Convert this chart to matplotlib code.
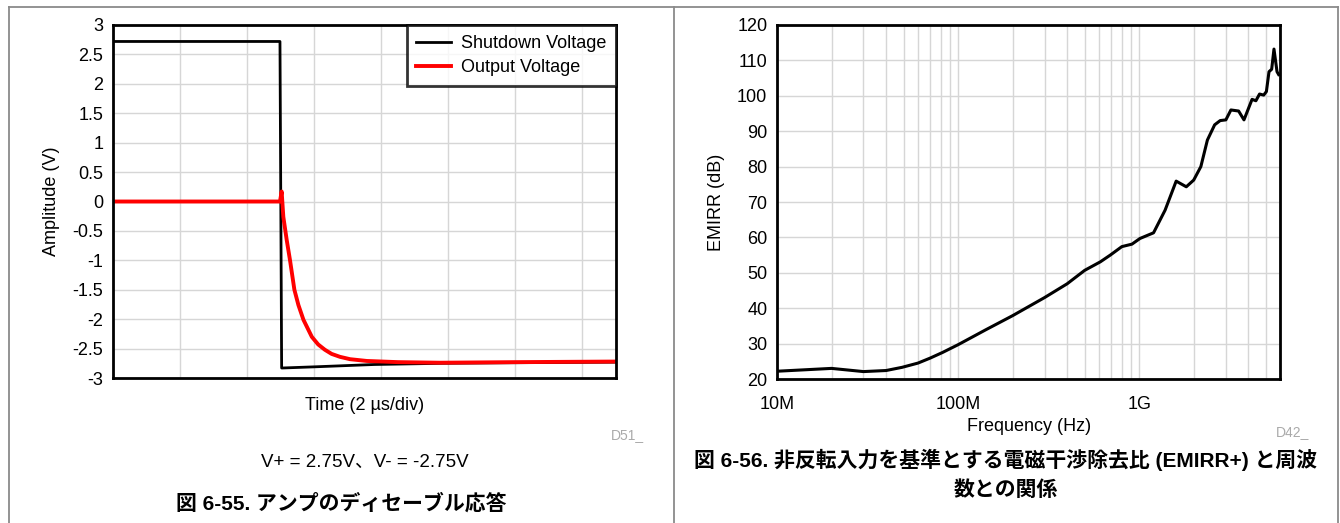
import matplotlib.pyplot as plt
from matplotlib.lines import Line2D
from matplotlib.ticker import FuncFormatter, LogLocator, NullFormatter

plt.rcParams['font.family'] = ['Liberation Sans', 'Noto Sans CJK JP']
plt.rcParams['axes.unicode_minus'] = False

FontSize = 13
GridColor = '#d6d6d6'

# amplifier disable response, time in us
shutdown_t = [0, 4.98, 5.03, 6.0, 7.8, 9.8, 12.0, 15.0]
shutdown_v = [2.72, 2.72, -2.83, -2.81, -2.77, -2.75, -2.74, -2.73]

output_t = [0, 4.98, 5.03, 5.08, 5.18, 5.28, 5.41, 5.53, 5.68, 5.93, 6.12, 6.32, 6.52,
            6.77, 7.07, 7.57, 8.5, 9.75, 12.0, 15.0]
output_v = [0, 0, 0.17, -0.26, -0.65, -1.0, -1.5, -1.76, -2.01, -2.30, -2.43, -2.52, -2.59,
            -2.64, -2.68, -2.71, -2.73, -2.74, -2.73, -2.72]

amp_ticks = [-3, -2.5, -2, -1.5, -1, -0.5, 0, 0.5, 1, 1.5, 2, 2.5, 3]
time_grid = [0, 2, 4, 6, 8, 10, 12, 14]

# EMIRR+ vs frequency
freq_hz = [1.0e7, 2.0e7, 3.0e7, 4.0e7, 4.9e7, 6.0e7, 7.0e7, 8.2e7, 1.0e8, 1.42e8, 2.0e8,
           3.0e8, 4.0e8, 5.0e8, 6.1e8, 6.92e8, 8.02e8, 9.12e8, 1.01e9, 1.2e9, 1.39e9,
           1.6e9, 1.82e9, 2.0e9, 2.19e9, 2.38e9, 2.61e9, 2.8e9, 3.01e9, 3.21e9, 3.54e9,
           3.79e9, 4.2e9, 4.41e9, 4.62e9, 4.87e9, 5.04e9, 5.21e9, 5.39e9, 5.55e9, 5.77e9, 5.89e9]
emirr_db = [22.2, 23.0, 22.1, 22.4, 23.3, 24.5, 25.9, 27.5, 29.7, 33.9, 37.9,
            43.0, 46.9, 50.7, 53.1, 55.0, 57.4, 58.1, 59.7, 61.3, 67.7,
            75.9, 74.3, 76.2, 80.0, 87.5, 91.8, 93.0, 93.2, 96.0, 95.7,
            93.2, 99.0, 98.6, 100.5, 100.2, 101.2, 106.8, 107.5, 113.2, 106.8, 106.0]

freq_ticks = [1e7, 1e8, 1e9]
freq_labels = ['10M', '100M', '1G']
emirr_ticks = [20, 30, 40, 50, 60, 70, 80, 90, 100, 110, 120]


def style_axes(ax):
    for s in ax.spines.values():
        s.set_linewidth(2.0)
        s.set_color('black')
    ax.tick_params(length=0, labelsize=FontSize)
    ax.set_axisbelow(True)


fig = plt.figure(figsize=(13.4, 5.23), dpi=100)

# --- left: disable response
ax1 = fig.add_axes([0.0843, 0.2772, 0.3754, 0.675])
ax1.plot(shutdown_t, shutdown_v, color='black', lw=2.0, label='Shutdown Voltage')
ax1.plot(output_t, output_v, color='#ff0000', lw=2.8, label='Output Voltage')
ax1.set_xlim(0, 15)
ax1.set_ylim(-3, 3)
ax1.set_yticks(amp_ticks)
ax1.yaxis.set_major_formatter(FuncFormatter(lambda v, p: f'{v:g}'))
ax1.set_xticks(time_grid)
ax1.set_xticklabels([])
ax1.grid(True, color=GridColor, lw=1.0)
style_axes(ax1)
ax1.tick_params(axis='y', pad=7)
ax1.set_xlabel('Time (2 µs/div)', fontsize=FontSize, labelpad=10)
ax1.set_ylabel('Amplitude (V)', fontsize=FontSize, labelpad=9)
leg = ax1.legend(loc='upper right', fontsize=FontSize, frameon=True, fancybox=False,
                 borderaxespad=0, handlelength=1.9, handletextpad=0.55,
                 borderpad=0.55, labelspacing=0.4)
leg.get_frame().set_edgecolor('black')
leg.get_frame().set_linewidth(2.0)

# --- right: EMIRR+
ax2 = fig.add_axes([0.5799, 0.2753, 0.3754, 0.6769])
ax2.plot(freq_hz, emirr_db, color='black', lw=2.2)
ax2.set_xscale('log')
ax2.set_xlim(1e7, 6e9)
ax2.set_ylim(20, 120)
ax2.set_yticks(emirr_ticks)
ax2.set_xticks(freq_ticks)
ax2.set_xticklabels(freq_labels)
ax2.xaxis.set_minor_locator(LogLocator(base=10, subs=range(2, 10)))
ax2.xaxis.set_minor_formatter(NullFormatter())
ax2.grid(True, which='both', color=GridColor, lw=1.0)
style_axes(ax2)
ax2.tick_params(which='minor', length=0)
ax2.tick_params(axis='x', pad=12)
ax2.tick_params(axis='y', pad=7)
ax2.set_xlabel('Frequency (Hz)', fontsize=FontSize, labelpad=4)
ax2.set_ylabel('EMIRR (dB)', fontsize=FontSize, labelpad=9)

# --- figure texts
W, H = 1340.0, 523.0
fig.text(611 / W, 1 - 435 / H, 'D51_', color='#aaaaaa', fontsize=10, va='center')
fig.text(1276 / W, 1 - 432 / H, 'D42_', color='#aaaaaa', fontsize=10, va='center')
fig.text(365 / W, 1 - 462 / H, 'V+ = 2.75V、V- = -2.75V', fontsize=13.5,
         ha='center', va='center')
fig.text(341 / W, 1 - 503 / H, '図 6-55. アンプのディセーブル応答', fontsize=15,
         fontweight='bold', ha='center', va='center')
fig.text(1006 / W, 1 - 460 / H, '図 6-56. 非反転入力を基準とする電磁干渉除去比 (EMIRR+) と周波',
         fontsize=15, fontweight='bold', ha='center', va='center')
fig.text(1006 / W, 1 - 490 / H, '数との関係', fontsize=15, fontweight='bold',
         ha='center', va='center')

# table borders
border = dict(color='#8a8a8a', lw=1.3, transform=fig.transFigure)
fig.add_artist(Line2D([9 / W, 1338 / W], [1 - 7 / H, 1 - 7 / H], **border))
fig.add_artist(Line2D([9 / W, 9 / W], [1 - 7 / H, 0], **border))
fig.add_artist(Line2D([674 / W, 674 / W], [1 - 7 / H, 0], **border))
fig.add_artist(Line2D([1338 / W, 1338 / W], [1 - 7 / H, 0], **border))

fig.savefig('out.png', dpi=100)
